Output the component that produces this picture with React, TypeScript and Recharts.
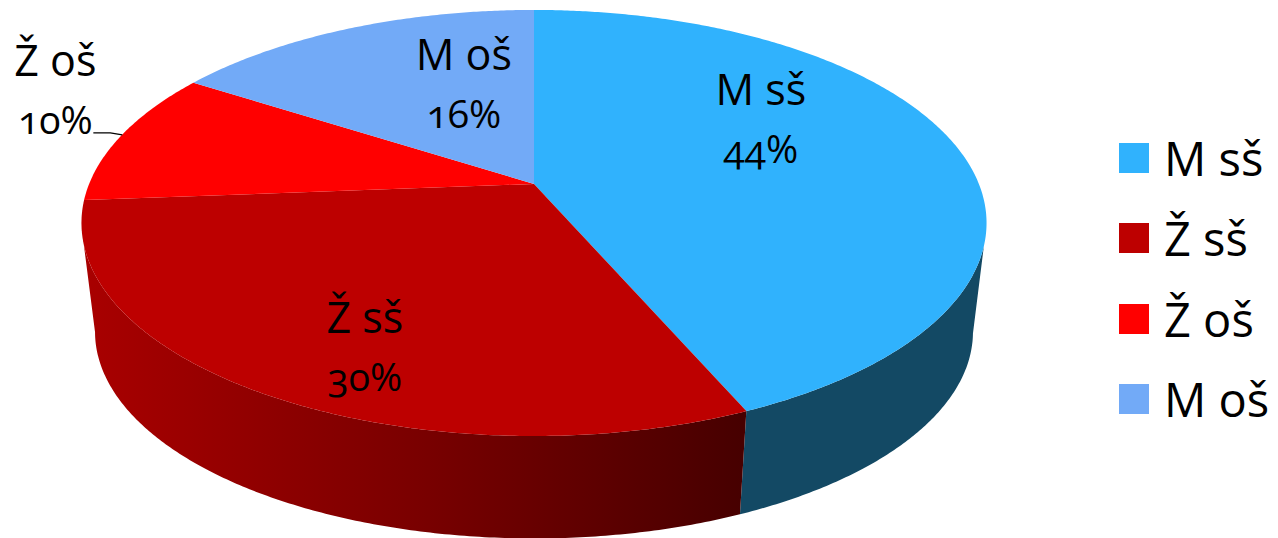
import React from "react";
import { PieChart, Pie, Legend } from "recharts";

const names = ["M sš", "Ž sš", "Ž oš", "M oš"];
const shares = [44, 30, 10, 16];
const topColors = ["#30b2fd", "#bd0000", "#ff0000", "#72aaf7"];
const wallColors = ["#134964", "url(#wallRed)", "none", "none"];

const rows = names.map((name, i) => ({
  name,
  value: shares[i],
  fill: topColors[i],
  wall: wallColors[i],
}));
const wallRows = rows.map((r) => ({ ...r, fill: r.wall }));

// fake 3D: the circle is pushed through a small perspective, apex sits above the ellipse centre
const FLATTEN = 0.4628;
const PERSPECTIVE = -0.183;
const WALL_SCALE = 0.97;
const WALL_DEPTH = 110;
const FONT = "'Open Sans', sans-serif";

// label nudges from the mid-radius point of each slice
const labelNudge: Record<string, [number, number]> = {
  "M sš": [12, -44],
  "Ž sš": [-40, 71],
  "Ž oš": [-268, -67],
  "M oš": [29, -14],
};

const project = (cx: number, cy: number, r: number, deg: number, frac = 1) => {
  const rad = (deg * Math.PI) / 180;
  const u = Math.cos(rad) * frac;
  const v = -Math.sin(rad) * frac;
  const w = 1 + PERSPECTIVE * v;
  return { x: (r * u) / w, y: (r * FLATTEN * v) / w, v: -Math.sin(rad) };
};

// the original's 3D view bends the slice edges a few degrees, this follows it
const bend = (deg: number) => {
  const t = ((90 - deg) * Math.PI) / 180;
  return deg - (-0.579 * Math.sin(t) + 0.382 * Math.sin(2 * t) - 1.463 * Math.sin(3 * t));
};

const arcPoints = (startAngle: number, endAngle: number) => {
  const out: number[] = [];
  const steps = Math.max(2, Math.ceil(Math.abs(endAngle - startAngle) * 2));
  for (let i = 0; i <= steps; i++) {
    out.push(bend(startAngle + ((endAngle - startAngle) * i) / steps));
  }
  return out;
};

const TopFace = (props: any) => {
  const { cx, cy, outerRadius, startAngle, endAngle, fill } = props;
  const pts = arcPoints(startAngle, endAngle).map((a) => {
    const p = project(cx, cy, outerRadius, a);
    return `${(cx + p.x).toFixed(2)},${(cy + p.y).toFixed(2)}`;
  });
  return <path d={`M${cx},${cy} L${pts.join(" L")} Z`} fill={fill} stroke="none" />;
};

const WallFace = (props: any) => {
  const { cx, cy, outerRadius, startAngle, endAngle, fill } = props;
  if (fill === "none") return <g />;
  const angles = arcPoints(startAngle, endAngle);
  const upper = angles
    .map((a) => project(cx, cy, outerRadius, a))
    .filter((p) => p.v >= 0.28)
    .map((p) => `${(cx + p.x).toFixed(2)},${(cy + p.y).toFixed(2)}`);
  const lower = angles
    .map((a) => project(cx, cy, outerRadius, a))
    .filter((p) => p.v >= 0.183)
    .map(
      (p) =>
        `${(cx + p.x * WALL_SCALE).toFixed(2)},${(cy + p.y * WALL_SCALE + WALL_DEPTH).toFixed(2)}`
    )
    .reverse();
  return <path d={`M${upper.join(" L")} L${lower.join(" L")} Z`} fill={fill} stroke="none" />;
};

const SliceLabel = (props: any) => {
  const { cx, cy, outerRadius, midAngle, name, value } = props;
  const p = project(cx, cy, outerRadius, midAngle, 0.5);
  const [dx, dy] = labelNudge[name];
  const x = cx + p.x + dx;
  const y = cy + p.y + dy;
  return (
    <g fontFamily={FONT} fill="#000" style={{ fontVariantNumeric: "oldstyle-nums" }}>
      <text x={x} y={y - 16} textAnchor="middle" fontSize={43}>
        {name}
      </text>
      <text x={x} y={y + 42} textAnchor="middle" fontSize={39}>
        {value}%
      </text>
      {name === "Ž oš" && (
        <path d={`M${x + 38},${y + 41} L${x + 55},${y + 41} L${x + 67},${y + 43}`} fill="none" stroke="#000" strokeWidth={1.3} />
      )}
    </g>
  );
};

const LegendList = ({ payload }: any) => {
  const items = (payload || [])
    .filter((entry: any) => topColors.includes(entry.color))
    .sort((a: any, b: any) => names.indexOf(a.value) - names.indexOf(b.value));
  return (
    <div style={{ fontFamily: FONT, fontSize: 47, lineHeight: "80.3px", color: "#000" }}>
      {items.map((entry: any) => (
        <div key={entry.value} style={{ display: "flex", alignItems: "center", height: 80.3 }}>
          <span style={{ width: 30, height: 30, background: entry.color, marginRight: 15, flex: "none" }} />
          <span style={{ whiteSpace: "nowrap" }}>{entry.value}</span>
        </div>
      ))}
    </div>
  );
};

export default function App() {
  return (
    <div style={{ position: "absolute", left: 0, top: 0, width: 1278, height: 538, overflow: "hidden", background: "#fff" }}>
      <PieChart width={1278} height={538} margin={{ top: 0, right: 0, bottom: 0, left: 0 }}>
        <defs>
          <linearGradient id="wallRed" gradientUnits="userSpaceOnUse" x1="90" y1="0" x2="741" y2="0">
            <stop offset="0%" stopColor="#a80000" />
            <stop offset="50%" stopColor="#7a0000" />
            <stop offset="100%" stopColor="#470000" />
          </linearGradient>
        </defs>
        <Pie
          data={wallRows}
          dataKey="value"
          nameKey="name"
          cx={534}
          cy={184}
          outerRadius={444.9}
          startAngle={90}
          endAngle={-270}
          stroke="none"
          legendType="none"
          shape={WallFace}
          isAnimationActive={false}
        />
        <Pie
          data={rows}
          dataKey="value"
          nameKey="name"
          cx={534}
          cy={184}
          outerRadius={444.9}
          startAngle={90}
          endAngle={-270}
          stroke="none"
          shape={TopFace}
          label={SliceLabel}
          labelLine={false}
          isAnimationActive={false}
        />
        <Legend
          layout="vertical"
          align="right"
          verticalAlign="top"
          wrapperStyle={{ left: 1119, top: 118, width: 159 }}
          content={LegendList}
        />
      </PieChart>
    </div>
  );
}
